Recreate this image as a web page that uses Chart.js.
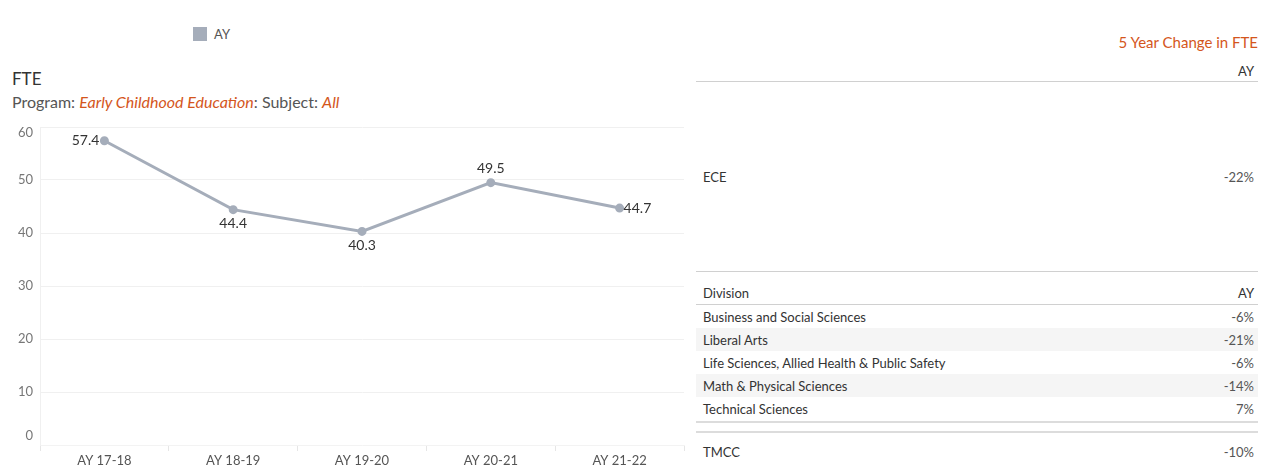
<!DOCTYPE html>
<html lang="en">
<head>
  <meta charset="UTF-8">
  <title>FTE – Early Childhood Education</title>
  <script src="https://cdn.jsdelivr.net/npm/chart.js@4.4.0/dist/chart.umd.min.js"></script>
  <style>
    body { margin: 0; width: 1261px; height: 467px; position: relative; overflow: hidden;
           font-family: Lato, "Noto Sans", sans-serif; color: #333; background: #fff; }
    .legend { position: absolute; left: 193px; top: 26px; font-size: 13px; color: #555; display: flex; align-items: center; }
    .legend span.sw { width: 14px; height: 14px; background: #a5adba; display: inline-block; margin-right: 7px; }
    .title { position: absolute; left: 12px; top: 68px; font-size: 17px; color: #333; }
    .sub { position: absolute; left: 12px; top: 92px; font-size: 16px; color: #555; }
    .sub em { color: #d4561c; }
    #wrap { position: absolute; left: 0; top: 110px; width: 690px; height: 357px; }
    .hdr { position: absolute; right: 3px; top: 33px; font-size: 15px; color: #d4561c; }
    .tbl { position: absolute; left: 696px; width: 562px; font-size: 13px; }
    .row { display: flex; justify-content: space-between; padding: 0 4px 0 7px; height: 23px; align-items: center; box-sizing: border-box; }
    .row .v { color: #555; }
    .row.alt { background: #f5f5f5; }
  </style>
</head>
<body>
  <div class="legend"><span class="sw"></span>AY</div>
  <div class="title">FTE</div>
  <div class="sub">Program: <em>Early Childhood Education</em>: Subject: <em>All</em></div>
  <div id="wrap"><canvas id="chart"></canvas></div>

  <div class="hdr">5 Year Change in FTE</div>
  <div class="tbl" id="progTbl" style="top:60px"></div>
  <div class="tbl" id="divTbl" style="top:271px"></div>
  <div class="tbl" id="totTbl" style="top:421px"></div>

<script>
  const years  = ['AY 17-18', 'AY 18-19', 'AY 19-20', 'AY 20-21', 'AY 21-22'];
  const fte    = [57.4, 44.4, 40.3, 49.5, 44.7];
  const yTicks = [0, 10, 20, 30, 40, 50, 60];
  const labelPos = ['left', 'below', 'below', 'above', 'right'];

  const programs   = ['ECE'];
  const programChg = ['-22%'];
  const divisions  = ['Business and Social Sciences', 'Liberal Arts', 'Life Sciences, Allied Health & Public Safety',
                      'Math & Physical Sciences', 'Technical Sciences'];
  const divisionChg = ['-6%', '-21%', '-6%', '-14%', '7%'];
  const college    = ['TMCC'];
  const collegeChg = ['-10%'];

  // tables
  document.getElementById('progTbl').innerHTML =
      '<div class="row" style="justify-content:flex-end;border-bottom:1px solid #d0d0d0;height:22px">AY</div>'
    + programs.map((p, i) => `<div class="row" style="height:190px"><span>${p}</span><span class="v">${programChg[i]}</span></div>`).join('');
  document.getElementById('divTbl').innerHTML =
      '<div class="row" style="border-top:1px solid #d0d0d0;border-bottom:1px solid #d0d0d0;height:34px;align-items:flex-end;padding-bottom:3px"><span>Division</span><span>AY</span></div>'
    + divisions.map((d, i) => `<div class="row${i % 2 ? ' alt' : ''}"><span>${d}</span><span class="v">${divisionChg[i]}</span></div>`).join('');
  document.getElementById('totTbl').innerHTML =
      '<div style="border-top:2px solid #dcdcdc;height:8px"></div><div style="border-top:2px solid #dcdcdc"></div>'
    + college.map((c, i) => `<div class="row" style="height:38px"><span>${c}</span><span class="v">${collegeChg[i]}</span></div>`).join('');

  // value labels next to each point, and y labels nudged inward at the ends
  const labelsPlugin = {
    id: 'labelsPlugin',
    afterDatasetsDraw(chart) {
      const ctx = chart.ctx;
      const meta = chart.getDatasetMeta(0);
      ctx.save();
      ctx.font = '14px Lato, "Noto Sans", sans-serif';
      ctx.fillStyle = '#333';
      meta.data.forEach((pt, i) => {
        const txt = fte[i].toFixed(1);
        const pos = labelPos[i];
        let x = pt.x, y = pt.y;
        ctx.textAlign = 'center'; ctx.textBaseline = 'middle';
        if (pos === 'left')  { ctx.textAlign = 'right'; x -= 5; }
        if (pos === 'right') { ctx.textAlign = 'left';  x += 4; }
        if (pos === 'below') y += 14;
        if (pos === 'above') y -= 14;
        ctx.fillText(txt, x, y);
      });
      const ys = chart.scales.y;
      ctx.font = '13px Lato, "Noto Sans", sans-serif';
      ctx.fillStyle = '#777';
      ctx.textAlign = 'right';
      yTicks.forEach(v => {
        let y = ys.getPixelForValue(v);
        if (v === ys.max) y += 6;
        if (v === ys.min) y -= 9;
        ctx.fillText(String(v), ys.right - 7, y);
      });
      ctx.restore();
    }
  };

  new Chart(document.getElementById('chart'), {
    type: 'line',
    data: {
      labels: years,
      datasets: [{
        label: 'AY', data: fte,
        borderColor: '#a5adba', backgroundColor: '#a5adba',
        borderWidth: 3, pointRadius: 3, pointHoverRadius: 3, tension: 0
      }]
    },
    options: {
      responsive: true, maintainAspectRatio: false, animation: false,
      layout: { padding: { top: 17, right: 4, left: 0, bottom: 0 } },
      plugins: { legend: { display: false }, tooltip: { enabled: false } },
      scales: {
        x: {
          offset: true,
          grid: { offset: true, drawOnChartArea: false, drawTicks: true, tickLength: 6, color: '#e6e6e6' },
          border: { display: true, color: '#f3f3f3' },
          ticks: { color: '#555', font: { size: 13, family: 'Lato' }, padding: 2 },
          afterFit: s => { s.height = 22; }
        },
        y: {
          min: 0, max: 60,
          afterBuildTicks: s => { s.ticks = yTicks.map(v => ({ value: v })); },
          grid: { drawTicks: false, color: c => c.tick.value === 0 ? 'rgba(0,0,0,0)' : '#f0f0f0' },
          border: { display: true, color: '#f0f0f0' },
          ticks: { color: 'rgba(0,0,0,0)', font: { size: 13, family: 'Lato' }, padding: 7 },
          afterFit: s => { s.width = 40; }
        }
      }
    },
    plugins: [labelsPlugin]
  });
</script>
</body>
</html>
